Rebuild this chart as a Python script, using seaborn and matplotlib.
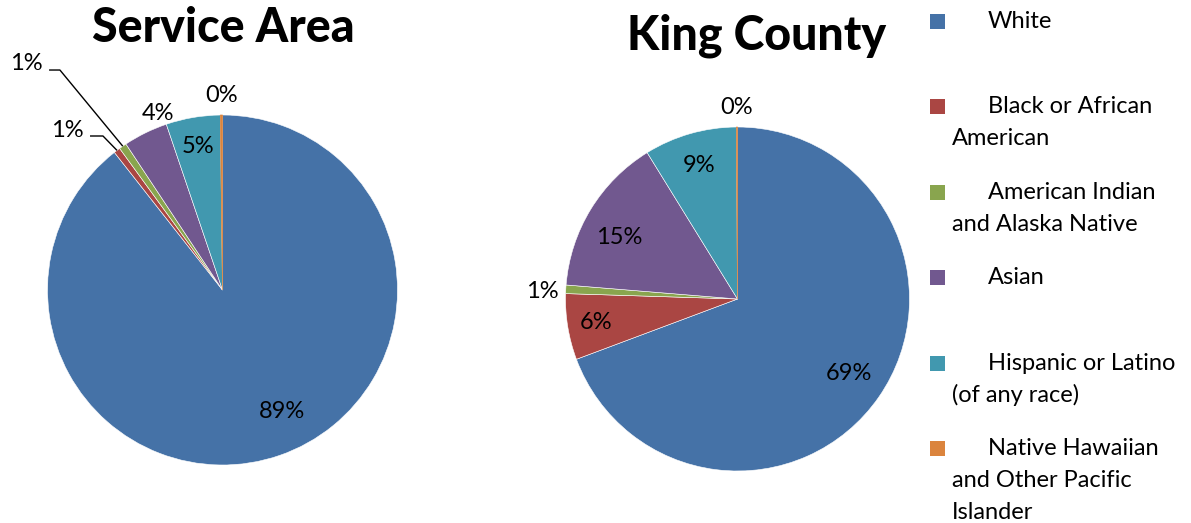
import numpy as np
import matplotlib
matplotlib.use("Agg")
import matplotlib.pyplot as plt
import seaborn as sns
from matplotlib.patches import Rectangle

sns.set_theme(style="white")
plt.rcParams['font.family'] = ['Lato', 'DejaVu Sans']

# ---- data -------------------------------------------------------------
categories = ["White", "Black or African American",
              "American Indian and Alaska Native", "Asian",
              "Hispanic or Latino (of any race)",
              "Native Hawaiian and Other Pacific Islander"]
legend_labels = ["White", "Black or African\nAmerican",
                 "American Indian\nand Alaska Native", "Asian",
                 "Hispanic or Latino\n(of any race)",
                 "Native Hawaiian\nand Other Pacific\nIslander"]
service_area = [89.4, 0.6, 0.7, 4.1, 5.0, 0.2]
king_county = [69.3, 6.2, 0.8, 14.9, 8.7, 0.1]
titles = ["Service Area", "King County"]

colors = sns.color_palette(["#4572A7", "#AA4643", "#89A54E",
                            "#71588F", "#4198AF", "#DB843D"])

# ---- figure -----------------------------------------------------------
W, H = 1191, 523
fig = plt.figure(figsize=(W / 100, H / 100), dpi=100)
fig.patch.set_facecolor("white")

LABEL_FS = 17


def pie_axes(cx, cy, r):
    """Square axes (pixel centre / radius) so that radius 1 fills it."""
    return fig.add_axes([(cx - r) / W, (H - cy - r) / H, 2 * r / W, 2 * r / H])


def draw_pie(ax, values, label_layout, callouts=None):
    wedges, _ = ax.pie(values, colors=colors, startangle=90,
                       counterclock=False,
                       wedgeprops=dict(linewidth=0.4, edgecolor="white"))
    ax.set_xlim(-1, 1)
    ax.set_ylim(-1, 1)
    ax.set_aspect("equal")
    ax.axis("off")
    total = sum(values)
    callouts = callouts or {}
    for i, (w, v) in enumerate(zip(wedges, values)):
        # hairline slices keep their own colour on the outline
        if 100 * v / total < 0.5:
            w.set_edgecolor(w.get_facecolor())
            w.set_linewidth(0.5)
        text = f"{100 * v / total:.0f}%"
        mid = np.deg2rad((w.theta1 + w.theta2) / 2)
        if i in callouts:
            (tx, ty), (x0, x1, ly) = callouts[i]
            ex, ey = np.cos(mid), np.sin(mid)
            ax.plot([x0, x1, ex], [ly, ly, ey], color="black", lw=1.0,
                    solid_capstyle="butt", clip_on=False)
            ax.text(tx, ty, text, ha="center", va="center",
                    fontsize=LABEL_FS, color="black", clip_on=False)
            continue
        rf, nudge = label_layout[i]
        ang = mid + np.deg2rad(nudge)
        ax.text(rf * np.cos(ang), rf * np.sin(ang), text, ha="center",
                va="center", fontsize=LABEL_FS, color="black", clip_on=False)
    return wedges


# Service Area pie
ax1 = pie_axes(222.5, 290, 175)
draw_pie(ax1, service_area,
         label_layout={0: (0.77, 7), 3: (1.075, -6), 4: (0.83, 0),
                       5: (1.11, 0)},
         callouts={1: ((-0.889, 0.914), (-0.757, -0.683, 0.88)),
                   2: ((-1.123, 1.297), (-0.991, -0.929, 1.257))})

# King County pie
ax2 = pie_axes(737.5, 299, 172)
draw_pie(ax2, king_county,
         label_layout={0: (0.78, 1), 1: (0.835, 0), 2: (1.138, 1),
                       3: (0.775, 4), 4: (0.805, 0), 5: (1.116, 0)})

# titles
for title, (tx, ty) in zip(titles, [(223.5, 42), (757, 50)]):
    fig.text(tx / W, 1 - ty / H, title, ha="center", va="baseline",
             fontsize=33.5, fontweight="black", color="black")

# legend: coloured square, first line indented, wrapped lines flush left
entry_step = 85.4
line_step = 32
for i, (lab, col) in enumerate(zip(legend_labels, colors)):
    yc = 21.5 + i * entry_step
    fig.patches.append(Rectangle((930 / W, 1 - (yc + 7.5) / H), 15 / W, 15 / H,
                                 transform=fig.transFigure, facecolor=col,
                                 edgecolor="none"))
    for j, line in enumerate(lab.split("\n")):
        x = 988 if j == 0 else 952
        fig.text(x / W, 1 - (yc + j * line_step) / H, line, ha="left",
                 va="center", fontsize=LABEL_FS, color="black")

fig.savefig("out.png", dpi=100, facecolor="white")
